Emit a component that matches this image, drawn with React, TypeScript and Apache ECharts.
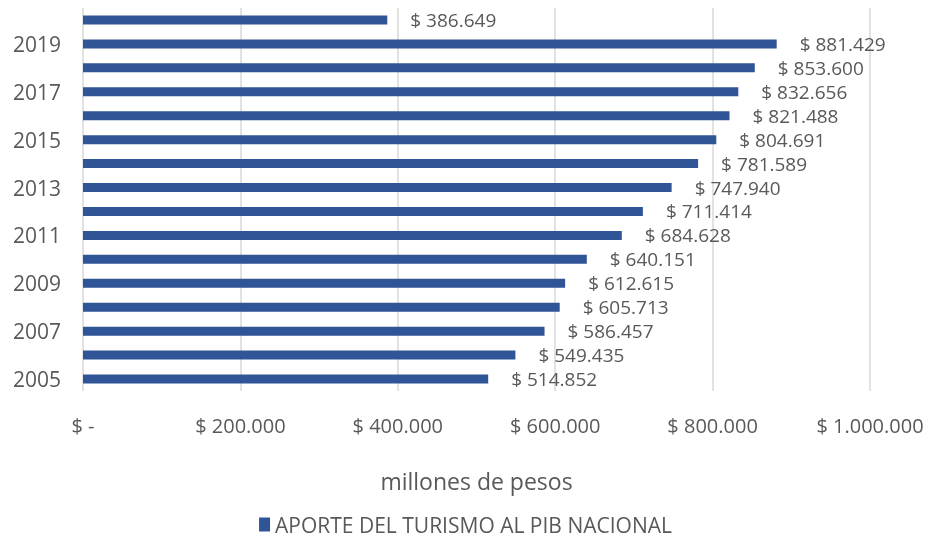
import React, { useEffect, useRef } from "react";
import * as echarts from "echarts";

const years = ["2005","2006","2007","2008","2009","2010","2011","2012","2013","2014","2015","2016","2017","2018","2019","2020"];
const aporte = [514852, 549435, 586457, 605713, 612615, 640151, 684628, 711414, 747940, 781589, 804691, 821488, 832656, 853600, 881429, 386649];
const seriesName = "APORTE DEL TURISMO AL PIB NACIONAL";
const axisTitle = "millones de pesos";

const fmt = (v: number) => {
  if (v === 0) return "$ -";
  return "$ " + Math.round(v).toString().replace(/\B(?=(\d{3})+(?!\d))/g, ".");
};

export default function App() {
  const ref = useRef<HTMLDivElement>(null);
  useEffect(() => {
    if (!ref.current) return;
    const chart = echarts.init(ref.current, null, { renderer: "svg" });
    const font = "'Open Sans', 'Noto Sans', sans-serif";
    chart.setOption({
      animation: false,
      textStyle: { fontFamily: font },
      grid: { left: 83, right: 61, top: 8, bottom: 152, containLabel: false },
      legend: {
        bottom: 3,
        left: "center",
        itemWidth: 11,
        itemHeight: 14,
        icon: "rect",
        itemGap: 6,
        textStyle: { color: "#595959", fontSize: 21, fontFamily: font },
        data: [seriesName],
      },
      xAxis: {
        type: "value",
        min: 0,
        max: 1000000,
        interval: 200000,
        name: axisTitle,
        nameLocation: "middle",
        nameGap: 78,
        nameTextStyle: { color: "#595959", fontSize: 23, fontFamily: font },
        axisLine: { show: false },
        axisTick: { show: false },
        axisLabel: { color: "#595959", fontSize: 20, margin: 24, formatter: (v: number) => fmt(v) },
        splitLine: { show: true, lineStyle: { color: "#d9d9d9", width: 1.5 } },
      },
      yAxis: {
        type: "category",
        data: years,
        axisLine: { show: false },
        axisTick: { show: false },
        axisLabel: { color: "#595959", fontSize: 21, interval: 1, margin: 22 },
      },
      series: [
        {
          name: seriesName,
          type: "bar",
          data: aporte,
          barWidth: 9,
          itemStyle: { color: "#2F5597" },
          label: {
            show: true,
            position: "right",
            distance: 23,
            color: "#595959",
            fontSize: 19,
            lineHeight: 19,
            fontFamily: font,
            formatter: (p: any) => fmt(p.value),
          },
        },
      ],
    });
    return () => chart.dispose();
  }, []);
  return <div ref={ref} style={{ position: "fixed", left: 0, top: 0, width: 931, height: 543 }} />;
}
